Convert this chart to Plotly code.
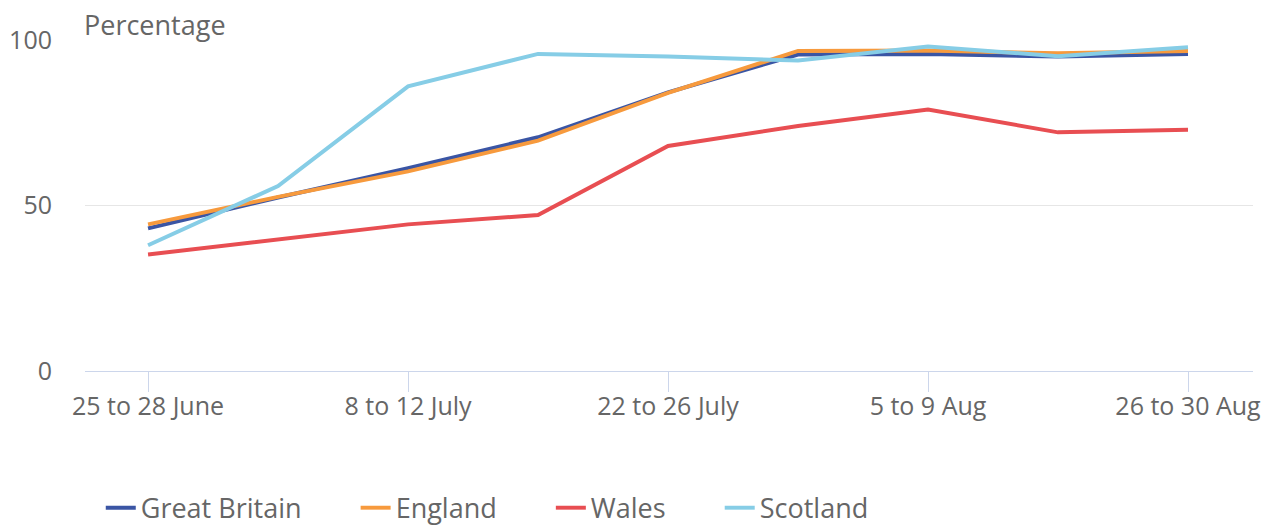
import plotly.graph_objects as go

periods = ["25 to 28 June", "1 to 5 July", "8 to 12 July", "15 to 19 July",
           "22 to 26 July", "29 July to 2 Aug", "5 to 9 Aug", "12 to 16 Aug",
           "26 to 30 Aug"]
shown_ticks = ["25 to 28 June", "8 to 12 July", "22 to 26 July", "5 to 9 Aug", "26 to 30 Aug"]

great_britain = [43.1, 52.4, 61.3, 70.6, 84.2, 95.6, 95.8, 95.0, 95.8]
england = [44.3, 52.6, 60.3, 69.6, 84.0, 96.7, 96.8, 96.0, 96.7]
wales = [35.2, 39.6, 44.3, 47.1, 68.0, 74.0, 79.0, 72.1, 72.9]
scotland = [38.0, 55.9, 86.0, 95.8, 95.0, 93.8, 98.0, 95.1, 97.8]

series = [
    ("Great Britain", great_britain, "#3A55A4"),
    ("England", england, "#F79A3D"),
    ("Wales", wales, "#E84E52"),
    ("Scotland", scotland, "#86CDE6"),
]

FONT = "Open Sans"
GREY = "#666666"
PAD = "\u00a0" * 7

fig = go.Figure()
for name, vals, color in series:
    fig.add_trace(go.Scatter(
        x=list(range(len(periods))), y=vals, name=name + PAD, mode="lines",
        line=dict(color=color, width=4), cliponaxis=False,
    ))

fig.update_layout(
    width=1263, height=526,
    margin=dict(l=85, r=10, t=40, b=155, autoexpand=False),
    paper_bgcolor="white", plot_bgcolor="white",
    font=dict(family=FONT, color=GREY, size=25),
    showlegend=True,
    legend=dict(orientation="h", x=0.0135, xanchor="left",
                yref="container", y=0.034, yanchor="middle",
                font=dict(size=27, color=GREY, family=FONT), itemwidth=30,
                tracegroupgap=0, bgcolor="rgba(0,0,0,0)"),
    xaxis=dict(
        range=[-0.485, 8.5],
        tickmode="array",
        tickvals=[periods.index(t) for t in shown_ticks],
        ticktext=shown_ticks,
        ticks="outside", ticklen=20, tickcolor="#ccd6eb", tickwidth=1,
        ticklabelstandoff=-7,
        showline=True, linecolor="#ccd6eb", linewidth=1,
        showgrid=False, zeroline=False,
        tickfont=dict(size=25, color=GREY, family=FONT),
    ),
    yaxis=dict(
        range=[0, 100],
        tickvals=[0, 50, 100],
        showgrid=True, gridcolor="#e6e6e6", gridwidth=1,
        zeroline=False, showline=False,
        ticklabelstandoff=32,
        tickfont=dict(size=25, color=GREY, family=FONT),
    ),
    annotations=[dict(
        text="Percentage", xref="paper", yref="paper", x=0, y=1,
        xanchor="left", yanchor="bottom", xshift=-3, yshift=-5, showarrow=False,
        font=dict(size=27, color=GREY, family=FONT),
    )],
)

fig.write_html("out.html")
